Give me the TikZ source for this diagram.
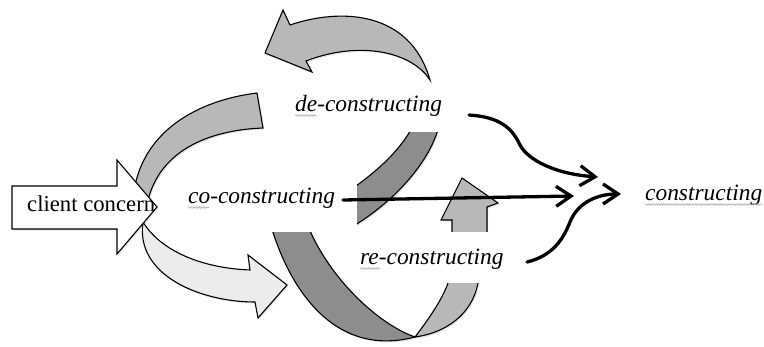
\documentclass[tikz,border=0pt]{standalone}
\usepackage{fontspec}
\setmainfont{Liberation Serif}
\usetikzlibrary{arrows.meta,decorations.pathmorphing,shadows}
\definecolor{bandmid}{RGB}{184,184,184}
\definecolor{banddark}{RGB}{141,141,141}
\definecolor{bandlight}{RGB}{236,236,236}
\begin{document}
\begin{tikzpicture}[x=1pt,y=-1pt,
  band/.style={draw=black, line width=1.1pt, line join=miter,
    drop shadow={shadow xshift=1.2pt, shadow yshift=-1.6pt, opacity=0.22}},
  mask/.style={fill=white},
  lbl/.style={font=\fontsize{23.4}{28}\selectfont\itshape, inner sep=0pt, anchor=base west},
  squig/.style={draw=gray!65, line width=0.6pt,
    decorate, decoration={snake, segment length=2.6pt, amplitude=0.8pt}},
  flow/.style={line width=3.3pt, line cap=round,
    -{Straight Barb[length=15pt, width=20pt, line width=3.3pt]}}
]
\useasboundingbox (0,0) rectangle (764,347);

% rising band behind the client concern arrowhead
\path[band, fill=bandmid]
  (133,198) .. controls (140,130) and (200,100) .. (257,93)
  -- (263,128) .. controls (210,130) and (155,150) .. (146,210) -- cycle;

% returning arrow above "de-constructing"
\path[band, fill=bandmid]
  (430,80) .. controls (410,10) and (340,8) .. (290,25)
  -- (283,10) -- (265,53) -- (312,72) -- (306,61)
  .. controls (360,40) and (412,52) .. (430,80) -- cycle;

% back face of that arrow, between the two labels
\path[band, fill=banddark]
  (352,189) .. controls (378,170) and (402,150) .. (416,120)
  -- (424,96) -- (442,96) -- (440,120)
  .. controls (436,150) and (405,195) .. (352,227) -- cycle;

% lower loop: back face
\path[band, fill=banddark]
  (271,226) .. controls (290,290) and (335,358) .. (415,337)
  .. controls (380,325) and (330,280) .. (308,226) -- cycle;

% lower loop: front face rising to the upward head
\path[band, fill=bandmid]
  (415,337) .. controls (428,320) and (442,300) .. (448,283)
  -- (452,232) -- (452,220) -- (441,220) -- (462,178) -- (498,203)
  -- (487,207) -- (487,232) -- (478,283)
  .. controls (472,315) and (445,333) .. (415,337) -- cycle;

% white text areas of the labels
\fill[mask] (285,84) rectangle (462,132);
\fill[mask] (178,170) rectangle (357,232);
\fill[mask] (355,232) rectangle (505,283);

% outgoing arrow below the client concern
\path[band, fill=bandlight]
  (143,222) .. controls (160,250) and (200,268) .. (250,270)
  -- (248,255) -- (287,285) -- (258,318) -- (255,302)
  .. controls (200,302) and (135,275) .. (143,222) -- cycle;

% client concern block arrow
\path[band, fill=white]
  (12,186) -- (117,186) -- (117,160) -- (157,207) -- (117,254)
  -- (117,229) -- (12,229) -- cycle;
\node[font=\fontsize{22.7}{27}\selectfont, inner sep=0pt, anchor=base west]
  (client) at (27,212) {client concern};

% labels
\node[lbl] (de) at (295,112) {de-constructing};
\node[lbl] (co) at (188,204) {co-constructing};
\node[lbl] (re) at (360,265) {re-constructing};
\node[lbl] (con) at (645,201) {constructing};

% spelling marks
\draw[squig] (295,115.5) -- (316,115.5);
\draw[squig] (188,207.5) -- (209,207.5);
\draw[squig] (360,268.5) -- (380,268.5);
\draw[squig] (645,204.5) -- (762,204.5);

% flows into "constructing"
\coordinate (deOut) at (469,115);
\coordinate (deIn)  at (598,177);
\coordinate (coOut) at (343,200);
\coordinate (coIn)  at (574,196);
\coordinate (reOut) at (527,262);
\coordinate (reIn)  at (621,194);

\draw[flow] (coOut) -- (coIn);
\draw[flow] (deOut) .. controls (500,117) and (512,128) .. (520,145)
  .. controls (528,160) and (555,174) .. (deIn);
\draw[flow] (reOut) .. controls (552,256) and (563,240) .. (570,222)
  .. controls (578,202) and (598,194) .. (reIn);
\end{tikzpicture}
\end{document}
